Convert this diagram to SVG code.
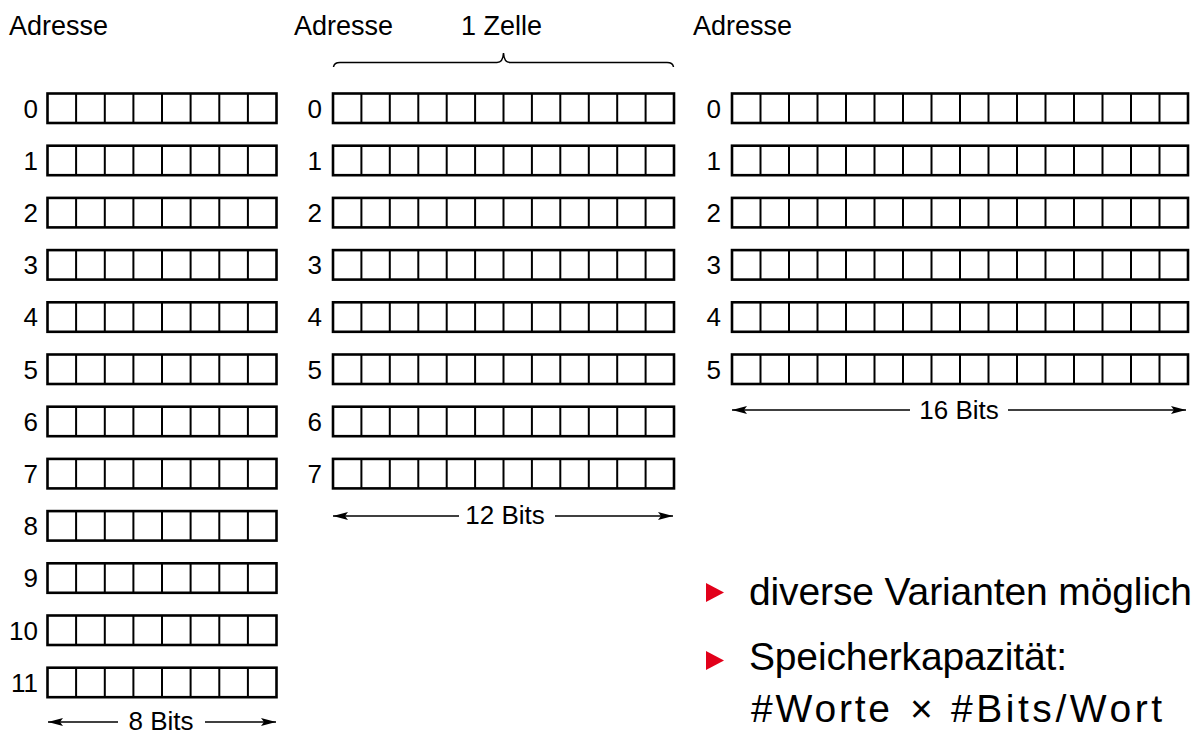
<svg xmlns="http://www.w3.org/2000/svg" xmlns:xlink="http://www.w3.org/1999/xlink" width="1194" height="734" viewBox="0 0 1194 734">
<style>
.cell{fill:#fff;stroke:#000;stroke-width:2.6}
.div{fill:none;stroke:#000;stroke-width:2}
.lbl{font-family:"Liberation Sans",Arial,sans-serif;font-size:27px;fill:#000}
.num{font-family:"Liberation Sans",Arial,sans-serif;font-size:26px;fill:#000;text-anchor:end}
.bits{font-family:"Liberation Sans",Arial,sans-serif;font-size:26px;fill:#000;text-anchor:middle}
.dim{fill:none;stroke:#000;stroke-width:1.4}
.brace{fill:none;stroke:#000;stroke-width:1.5}
.bul{font-family:"Liberation Sans",Arial,sans-serif;font-size:39px;fill:#000}
.tri{fill:#e2001a}
</style>
<defs>
<marker id="ah" markerUnits="userSpaceOnUse" markerWidth="16" markerHeight="8" refX="15" refY="4" orient="auto-start-reverse">
<path d="M0,0 L15,4 L0,8 L3,4 Z" fill="#000"/>
</marker>
<g id="row8">
<rect class="cell" x="0" y="0" width="229" height="29.5"/>
<path class="div" d="M28.6,0v29.5M57.3,0v29.5M85.9,0v29.5M114.5,0v29.5M143.1,0v29.5M171.8,0v29.5M200.4,0v29.5"/>
</g>
<g id="row12">
<rect class="cell" x="0" y="0" width="341" height="29.5"/>
<path class="div" d="M28.4,0v29.5M56.8,0v29.5M85.3,0v29.5M113.7,0v29.5M142.1,0v29.5M170.5,0v29.5M198.9,0v29.5M227.3,0v29.5M255.8,0v29.5M284.2,0v29.5M312.6,0v29.5"/>
</g>
<g id="row16">
<rect class="cell" x="0" y="0" width="456" height="29.5"/>
<path class="div" d="M28.5,0v29.5M57,0v29.5M85.5,0v29.5M114,0v29.5M142.5,0v29.5M171,0v29.5M199.5,0v29.5M228,0v29.5M256.5,0v29.5M285,0v29.5M313.5,0v29.5M342,0v29.5M370.5,0v29.5M399,0v29.5M427.5,0v29.5"/>
</g>
</defs>
<rect width="1194" height="734" fill="#fff"/>

<g id="headers">
<text class="lbl" x="9" y="35">Adresse</text>
<text class="lbl" x="294" y="35">Adresse</text>
<text class="lbl" x="461" y="35">1 Zelle</text>
<text class="lbl" x="693" y="35">Adresse</text>
</g>

<g id="mem8">
<g id="m8-0"><text class="num" x="38" y="117.5">0</text><use xlink:href="#row8" x="47.5" y="93.5"/></g>
<g id="m8-1"><text class="num" x="38" y="169.7">1</text><use xlink:href="#row8" x="47.5" y="145.7"/></g>
<g id="m8-2"><text class="num" x="38" y="221.9">2</text><use xlink:href="#row8" x="47.5" y="197.9"/></g>
<g id="m8-3"><text class="num" x="38" y="274.1">3</text><use xlink:href="#row8" x="47.5" y="250.1"/></g>
<g id="m8-4"><text class="num" x="38" y="326.3">4</text><use xlink:href="#row8" x="47.5" y="302.3"/></g>
<g id="m8-5"><text class="num" x="38" y="378.5">5</text><use xlink:href="#row8" x="47.5" y="354.5"/></g>
<g id="m8-6"><text class="num" x="38" y="430.7">6</text><use xlink:href="#row8" x="47.5" y="406.7"/></g>
<g id="m8-7"><text class="num" x="38" y="482.9">7</text><use xlink:href="#row8" x="47.5" y="458.9"/></g>
<g id="m8-8"><text class="num" x="38" y="535.1">8</text><use xlink:href="#row8" x="47.5" y="511.1"/></g>
<g id="m8-9"><text class="num" x="38" y="587.3">9</text><use xlink:href="#row8" x="47.5" y="563.3"/></g>
<g id="m8-10"><text class="num" x="38" y="639.5">10</text><use xlink:href="#row8" x="47.5" y="615.5"/></g>
<g id="m8-11"><text class="num" x="38" y="691.7">11</text><use xlink:href="#row8" x="47.5" y="667.7"/></g>
</g>

<g id="mem12">
<g id="m12-0"><text class="num" x="322" y="117.5">0</text><use xlink:href="#row12" x="333" y="93.5"/></g>
<g id="m12-1"><text class="num" x="322" y="169.7">1</text><use xlink:href="#row12" x="333" y="145.7"/></g>
<g id="m12-2"><text class="num" x="322" y="221.9">2</text><use xlink:href="#row12" x="333" y="197.9"/></g>
<g id="m12-3"><text class="num" x="322" y="274.1">3</text><use xlink:href="#row12" x="333" y="250.1"/></g>
<g id="m12-4"><text class="num" x="322" y="326.3">4</text><use xlink:href="#row12" x="333" y="302.3"/></g>
<g id="m12-5"><text class="num" x="322" y="378.5">5</text><use xlink:href="#row12" x="333" y="354.5"/></g>
<g id="m12-6"><text class="num" x="322" y="430.7">6</text><use xlink:href="#row12" x="333" y="406.7"/></g>
<g id="m12-7"><text class="num" x="322" y="482.9">7</text><use xlink:href="#row12" x="333" y="458.9"/></g>
</g>

<g id="mem16">
<g id="m16-0"><text class="num" x="721" y="117.5">0</text><use xlink:href="#row16" x="732" y="93.5"/></g>
<g id="m16-1"><text class="num" x="721" y="169.7">1</text><use xlink:href="#row16" x="732" y="145.7"/></g>
<g id="m16-2"><text class="num" x="721" y="221.9">2</text><use xlink:href="#row16" x="732" y="197.9"/></g>
<g id="m16-3"><text class="num" x="721" y="274.1">3</text><use xlink:href="#row16" x="732" y="250.1"/></g>
<g id="m16-4"><text class="num" x="721" y="326.3">4</text><use xlink:href="#row16" x="732" y="302.3"/></g>
<g id="m16-5"><text class="num" x="721" y="378.5">5</text><use xlink:href="#row16" x="732" y="354.5"/></g>
</g>

<g id="connectors">
<path class="brace" d="M333.5,67 Q334,62.5 340,62.5 L497,62.5 Q503,62.5 503.5,53 Q504,62.5 510,62.5 L667,62.5 Q673,62.5 673.5,67"/>
<line class="dim" x1="118" y1="722" x2="48" y2="722" marker-end="url(#ah)"/>
<line class="dim" x1="205" y1="722" x2="276" y2="722" marker-end="url(#ah)"/>
<line class="dim" x1="459" y1="516" x2="333" y2="516" marker-end="url(#ah)"/>
<line class="dim" x1="555" y1="516" x2="673" y2="516" marker-end="url(#ah)"/>
<line class="dim" x1="910" y1="410" x2="732" y2="410" marker-end="url(#ah)"/>
<line class="dim" x1="1008" y1="410" x2="1186" y2="410" marker-end="url(#ah)"/>
</g>

<g id="dims">
<text class="bits" x="161" y="730">8 Bits</text>
<text class="bits" x="505" y="523.5">12 Bits</text>
<text class="bits" x="959" y="418.5">16 Bits</text>
</g>

<g id="bullets">
<path class="tri" d="M706,583 L724,592.5 L706,602 Z"/>
<text class="bul" x="749" y="605" textLength="443">diverse Varianten möglich</text>
<path class="tri" d="M706,651 L724,660.5 L706,670 Z"/>
<text class="bul" x="749" y="670" textLength="318">Speicherkapazität:</text>
<text class="bul" y="721.5"><tspan x="751" textLength="139">#Worte</tspan><tspan x="910">×</tspan><tspan x="951" textLength="211">#Bits/Wort</tspan></text>
</g>
</svg>
